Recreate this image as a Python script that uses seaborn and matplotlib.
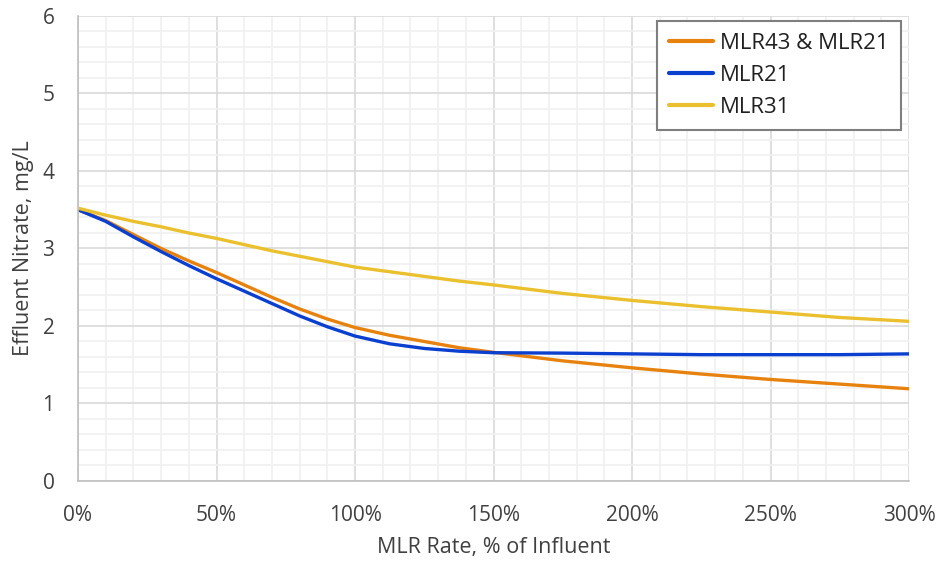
import matplotlib
matplotlib.use("Agg")
import matplotlib.pyplot as plt
import matplotlib.ticker as mticker
import seaborn as sns
import pandas as pd

x_pct = [0, 10, 20, 30, 40, 50, 60, 70, 80, 90, 100, 112.5, 125, 137.5, 150,
         175, 200, 225, 250, 275, 300]
mlr43_mlr21 = [3.50, 3.36, 3.18, 3.00, 2.84, 2.69, 2.53, 2.37, 2.22, 2.09, 1.98,
               1.88, 1.80, 1.72, 1.66, 1.55, 1.46, 1.38, 1.31, 1.25, 1.19]
mlr21 = [3.50, 3.35, 3.15, 2.96, 2.78, 2.61, 2.45, 2.29, 2.13, 1.99, 1.87,
         1.77, 1.71, 1.675, 1.655, 1.65, 1.64, 1.63, 1.63, 1.63, 1.64]
mlr31 = [3.52, 3.43, 3.35, 3.28, 3.20, 3.13, 3.05, 2.97, 2.90, 2.83, 2.76,
         2.70, 2.64, 2.58, 2.53, 2.42, 2.33, 2.25, 2.18, 2.11, 2.06]
series_names = ["MLR43 & MLR21", "MLR21", "MLR31"]
colors = ["#E8820F", "#0B3FCF", "#EBC02E"]

rows = []
for name, vals in zip(series_names, [mlr43_mlr21, mlr21, mlr31]):
    for xv, yv in zip(x_pct, vals):
        rows.append({"x": xv, "y": yv, "series": name})
df = pd.DataFrame(rows)

sns.set_style("white")
plt.rcParams["font.family"] = ["Open Sans", "DejaVu Sans"]

fig = plt.figure(figsize=(9.42, 5.67), dpi=100)
ax = fig.add_axes([0.0828, 0.1517, 0.965 - 0.0828, 0.9718 - 0.1517])

sns.lineplot(data=df, x="x", y="y", hue="series", hue_order=series_names,
             palette=colors, linewidth=2.4, ax=ax, sort=False)
for ln in ax.get_lines():
    ln.set_solid_joinstyle("round")

ax.set_xlim(0, 300)
ax.set_ylim(0, 6)
ax.xaxis.set_major_locator(mticker.MultipleLocator(50))
ax.xaxis.set_minor_locator(mticker.MultipleLocator(10))
ax.yaxis.set_major_locator(mticker.MultipleLocator(1))
ax.yaxis.set_minor_locator(mticker.MultipleLocator(0.2))
ax.xaxis.set_major_formatter(mticker.FuncFormatter(lambda v, p: f"{v:.0f}%"))
ax.grid(which="major", color="#D9D9D9", linewidth=1.2)
ax.grid(which="minor", color="#F0F0F0", linewidth=1.2)
ax.set_axisbelow(True)
ax.tick_params(which="both", length=0, labelsize=15, colors="#404040")
ax.tick_params(axis="y", pad=17)
ax.tick_params(axis="x", pad=17)

for s in ["top", "right"]:
    ax.spines[s].set_visible(False)
ax.spines["left"].set_color("#BFBFBF")
ax.spines["bottom"].set_color("#BFBFBF")
ax.spines["left"].set_linewidth(1.2)
ax.spines["bottom"].set_linewidth(1.2)

ax.set_xlabel("MLR Rate, % of Influent", fontsize=15.5, color="#404040", labelpad=8)
ax.set_ylabel("Effluent Nitrate, mg/L", fontsize=15.5, color="#404040", labelpad=6)

leg = ax.legend(loc="upper right", bbox_to_anchor=(0.99, 0.99), fontsize=16,
                frameon=True, fancybox=False, edgecolor="#7F7F7F",
                handlelength=2.0, handletextpad=0.3, borderpad=0.55,
                labelspacing=0.5, framealpha=1, borderaxespad=0)
leg.get_frame().set_linewidth(1.5)
for t in leg.get_texts():
    t.set_color("#202020")
for h in leg.get_lines():
    h.set_linewidth(3)

fig.savefig("out.png", dpi=100)
